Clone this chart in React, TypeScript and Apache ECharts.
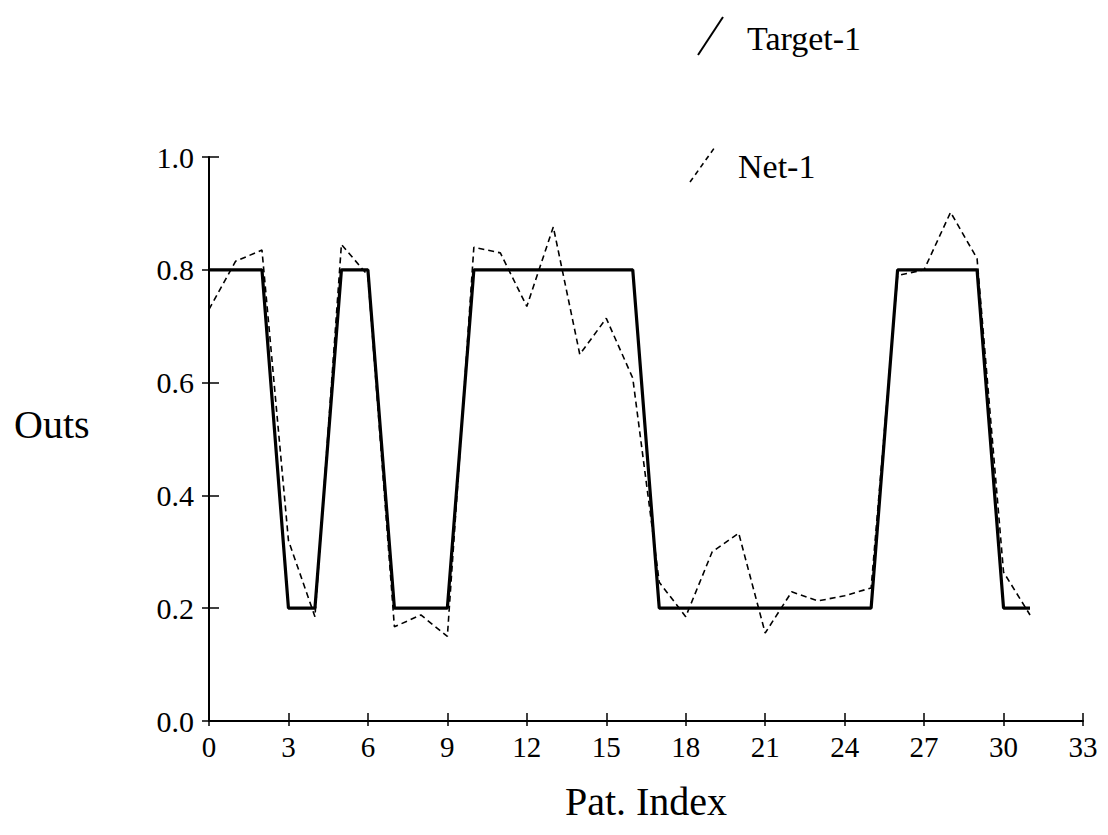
import React, { useEffect, useRef } from "react";
import * as echarts from "echarts";

const patIndex = [0, 1, 2, 3, 4, 5, 6, 7, 8, 9, 10, 11, 12, 13, 14, 15, 16, 17, 18, 19, 20, 21, 22, 23, 24, 25, 26, 27, 28, 29, 30, 31];
const target1 = [0.8, 0.8, 0.8, 0.2, 0.2, 0.8, 0.8, 0.2, 0.2, 0.2, 0.8, 0.8, 0.8, 0.8, 0.8, 0.8, 0.8, 0.2, 0.2, 0.2, 0.2, 0.2, 0.2, 0.2, 0.2, 0.2, 0.8, 0.8, 0.8, 0.8, 0.2, 0.2];
const net1 = [0.73, 0.815, 0.835, 0.32, 0.185, 0.845, 0.79, 0.167, 0.188, 0.15, 0.84, 0.83, 0.735, 0.876, 0.65, 0.714, 0.608, 0.246, 0.185, 0.3, 0.333, 0.156, 0.229, 0.213, 0.222, 0.236, 0.79, 0.8, 0.902, 0.82, 0.264, 0.188];

const xLabel = "Pat. Index";
const yLabel = "Outs";
const legendNames = ["Target-1", "Net-1"];

const FONT = "Liberation Serif";

export default function App() {
  const ref = useRef<HTMLDivElement>(null);
  useEffect(() => {
    const chart = echarts.init(ref.current!, null, { renderer: "svg" });
    const grid = { left: 209, top: 157, width: 874, height: 564 };
    const axisLine = { show: true, lineStyle: { color: "#000", width: 2 } };
    chart.setOption({
      animation: false,
      backgroundColor: "#fff",
      grid,
      xAxis: [
        {
          type: "value",
          min: 0,
          max: 33,
          interval: 3,
          axisLine,
          axisTick: { show: true, inside: false, length: 5, lineStyle: { color: "#000", width: 1.5 } },
          axisLabel: { color: "#000", fontFamily: FONT, fontSize: 29, margin: 11 },
          splitLine: { show: false },
          name: xLabel,
          nameLocation: "middle",
          nameGap: 60,
          nameTextStyle: { color: "#000", fontFamily: FONT, fontSize: 40 },
        },
        {
          type: "value",
          position: "bottom",
          min: 0,
          max: 33,
          interval: 3,
          axisLine: { show: false },
          axisTick: { show: true, inside: true, length: 8, lineStyle: { color: "#000", width: 1.5 } },
          axisLabel: { show: false },
          splitLine: { show: false },
        },
      ],
      yAxis: [
        {
          type: "value",
          min: 0,
          max: 1,
          interval: 0.2,
          axisLine,
          axisTick: { show: true, inside: false, length: 7, lineStyle: { color: "#000", width: 1.5 } },
          axisLabel: {
            color: "#000",
            fontFamily: FONT,
            fontSize: 30,
            margin: 15,
            formatter: (v: number) => v.toFixed(1),
          },
          splitLine: { show: false },
        },
        {
          type: "value",
          position: "left",
          min: 0,
          max: 1,
          interval: 0.2,
          axisLine: { show: false },
          axisTick: { show: true, inside: true, length: 10, lineStyle: { color: "#000", width: 1.5 } },
          axisLabel: { show: false },
          splitLine: { show: false },
        },
      ],
      series: [
        {
          name: legendNames[0],
          type: "line",
          xAxisIndex: 0,
          yAxisIndex: 0,
          data: patIndex.map((x, i) => [x, target1[i]]),
          symbol: "none",
          lineStyle: { color: "#000", width: 3.2, type: "solid" },
          z: 3,
        },
        {
          name: legendNames[1],
          type: "line",
          xAxisIndex: 0,
          yAxisIndex: 0,
          data: patIndex.map((x, i) => [x, net1[i]]),
          symbol: "none",
          lineStyle: { color: "#000", width: 1.6, type: [6, 4] },
          z: 2,
        },
      ],
      graphic: [
        {
          type: "text",
          left: 14,
          top: 404,
          style: { text: yLabel, fill: "#000", font: `40px "${FONT}"` },
        },
        {
          type: "line",
          shape: { x1: 698, y1: 55, x2: 723, y2: 17 },
          style: { stroke: "#000", lineWidth: 2 },
        },
        {
          type: "text",
          left: 747,
          top: 21,
          style: { text: legendNames[0], fill: "#000", font: `34px "${FONT}"` },
        },
        {
          type: "line",
          shape: { x1: 690, y1: 182, x2: 715, y2: 147 },
          style: { stroke: "#000", lineWidth: 1.6, lineDash: [5, 4] },
        },
        {
          type: "text",
          left: 738,
          top: 149,
          style: { text: legendNames[1], fill: "#000", font: `34px "${FONT}"` },
        },
      ],
    });
    return () => chart.dispose();
  }, []);
  return (
    <div
      ref={ref}
      style={{ position: "fixed", left: 0, top: 0, width: 1108, height: 835, background: "#fff" }}
    />
  );
}
